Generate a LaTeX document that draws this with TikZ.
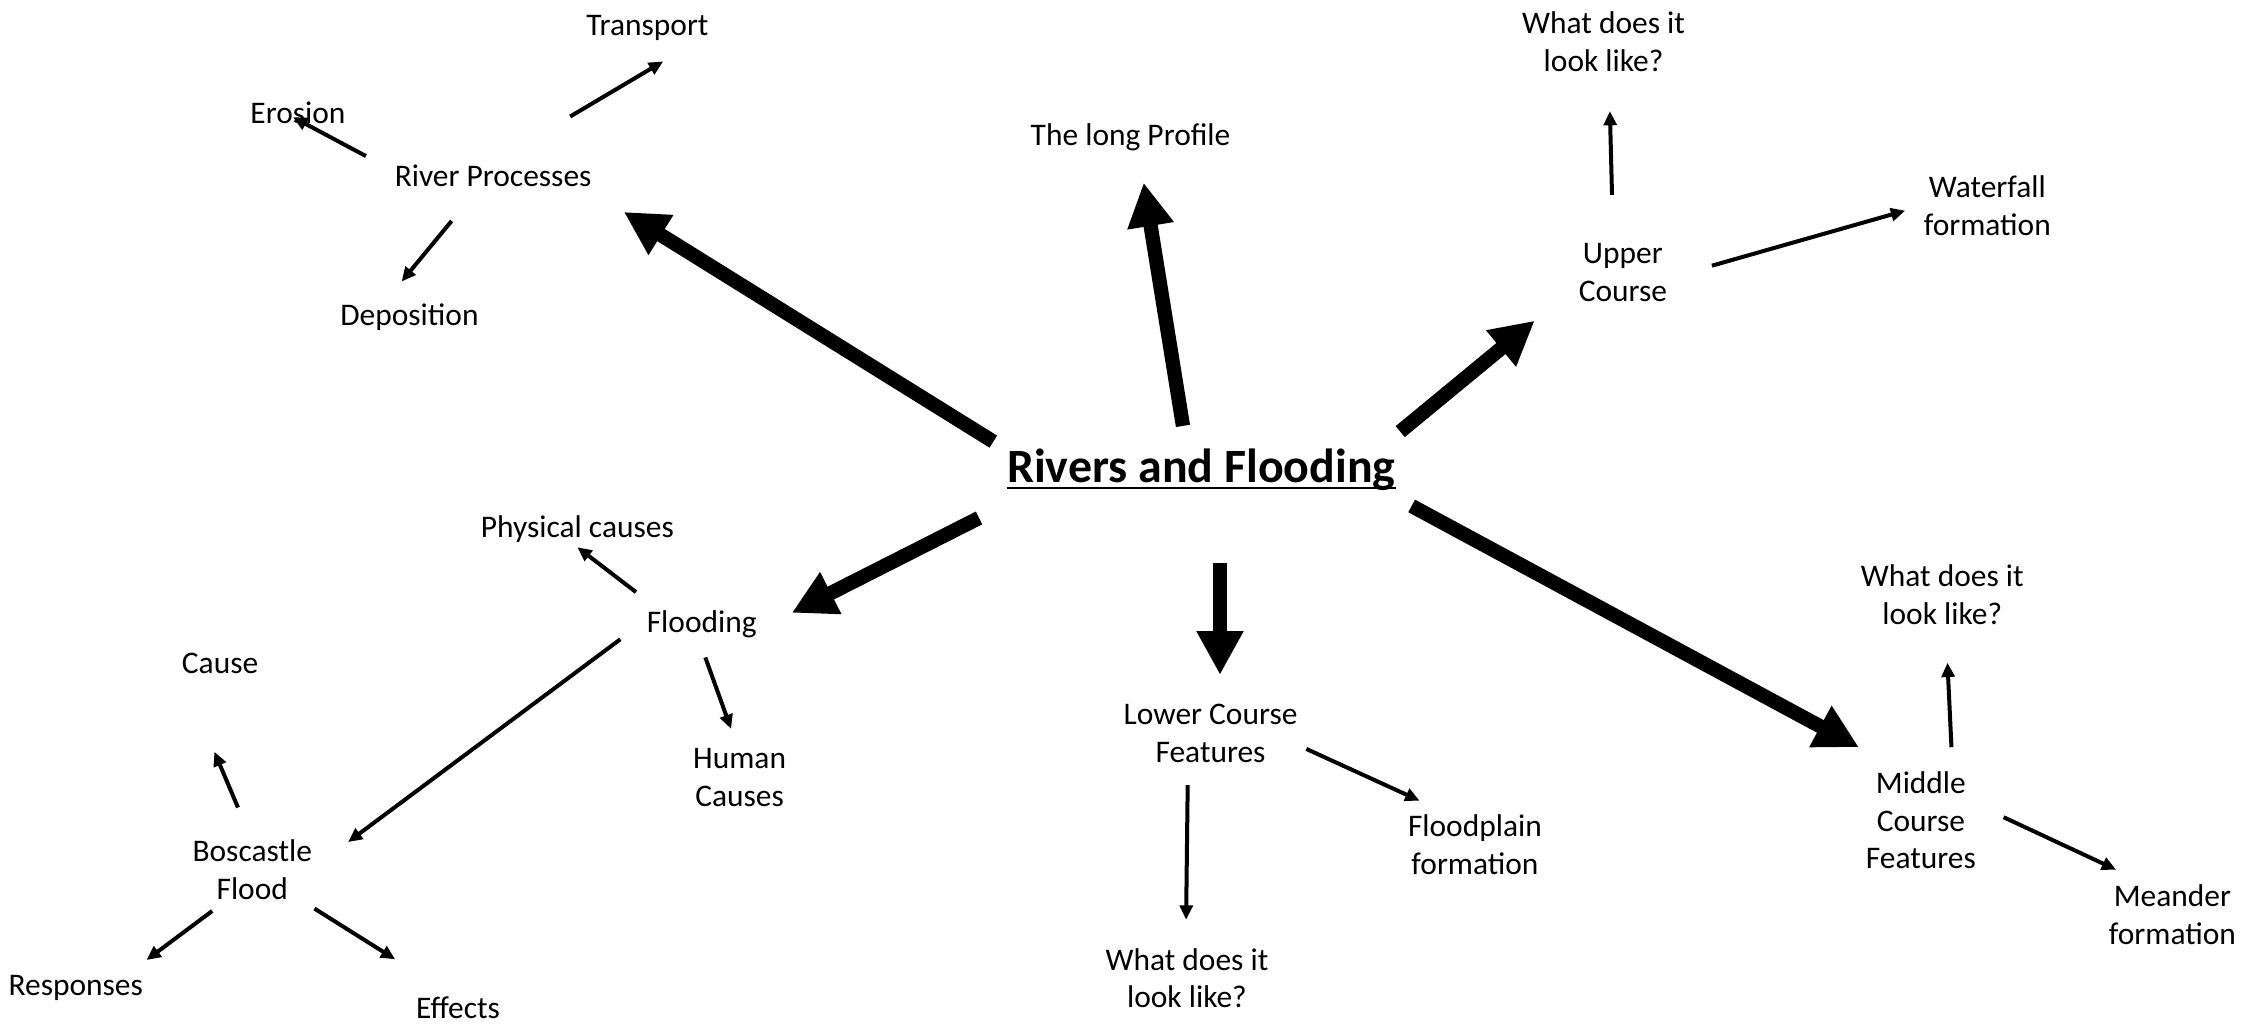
\documentclass[tikz,border=0pt]{standalone}
\usepackage{fontspec}
\setmainfont{Carlito}
\usetikzlibrary{arrows.meta,calc}
\begin{document}
\begin{tikzpicture}[x=0.5pt,y=-0.5pt,
  lbl/.style={inner sep=0pt, align=center, font=\fontsize{11pt}{13.2pt}\selectfont},
  ttl/.style={inner sep=0pt, font=\fontsize{16.75pt}{20pt}\selectfont\bfseries},
  big/.style={line width=5pt, -{Triangle[length=15.3pt,width=15.4pt]}},
  small/.style={line width=1.4pt, -{Triangle[length=5pt,width=4.5pt]}}]
\useasboundingbox (0,0) rectangle (1568,715.8);

% nodes
\node[ttl] (title) at (840.5,328.5) {Rivers and Flooding};
\draw[line width=0.7pt] ([yshift=-1.9pt]title.base west) -- ([yshift=-1.9pt]title.base east);

\node[lbl] (tr)  at (453,19.5)    {Transport};
\node[lbl] (er)  at (208.5,79)    {Erosion};
\node[lbl] (rp)  at (345,123)     {River Processes};
\node[lbl] (dep) at (286.5,222)   {Deposition};
\node[lbl] (lp)  at (791,96)      {The long Profile};
\node[lbl] (uw)  at (1122,29)     {What does it\\look like?};
\node[lbl] (wf)  at (1390.5,144)  {Waterfall\\formation};
\node[lbl] (uc)  at (1135.5,190.5){Upper\\Course};
\node[lbl] (pc)  at (404,370)     {Physical causes};
\node[lbl] (fl)  at (491,437)     {Flooding};
\node[lbl] (ca)  at (154,464)     {Cause};
\node[lbl] (hc)  at (517.5,544)   {Human\\Causes};
\node[lbl] (bf)  at (176.5,608.5) {Boscastle\\Flood};
\node[lbl] (rs)  at (53,691.5)    {Responses};
\node[lbl] (ef)  at (320.5,705)   {Effects};
\node[lbl] (lc)  at (847,513)     {Lower Course\\Features};
\node[lbl] (fp)  at (1032,591)    {Floodplain\\formation};
\node[lbl] (lw)  at (830.5,684.5) {What does it\\look like?};
\node[lbl] (mw)  at (1359,416)    {What does it\\look like?};
\node[lbl] (mc)  at (1344,574)    {Middle\\Course\\Features};
\node[lbl] (mf)  at (1520,640)    {Meander\\formation};

% thick arrows from the centre
\draw[big] ($(title)+(-145.5,-19.5)$) -- ($(rp)+(91.5,25.3)$);
\draw[big] ($(title)+(-12.8,-30.5)$)  -- ($(lp)+(9.2,31.8)$);
\draw[big] ($(title)+(139.2,-26.5)$)  -- ($(uc)+(-61.7,33.9)$);
\draw[big] ($(title)+(-155.5,33.9)$)  -- ($(fl)+(63,-8.2)$);
\draw[big] ($(title)+(13.1,65.3)$)    -- ($(lc)+(6.6,-40.8)$);
\draw[big] ($(title)+(147.2,25.5)$)   -- ($(mc)+(-43.4,-51.2)$);

% thin arrows
\draw[small] ($(rp)+(54,-41.5)$)   -- ($(tr)+(11,23.5)$);
\draw[small] ($(rp)+(-89,-13.8)$)  -- ($(er)+(-3.5,3)$);
\draw[small] ($(rp)+(-29,31.6)$)   -- ($(dep)+(-5.5,-25)$);
\draw[small] ($(uc)+(-7.6,-54.1)$) -- ($(uw)+(4.4,48.7)$);
\draw[small] ($(uc)+(62.3,-4.6)$)  -- ($(wf)+(-57.5,3.4)$);
\draw[small] ($(fl)+(-46,-22.7)$)  -- ($(pc)+(0,12.9)$);
\draw[small] ($(fl)+(2.5,23)$)     -- ($(hc)+(-6,-34)$);
\draw[small] ($(fl)+(-57,10.3)$)   -- ($(bf)+(67,-19.3)$);
\draw[small] ($(bf)+(-10,-43.5)$)  -- ($(ca)+(-4,62)$);
\draw[small] ($(bf)+(-28,28.9)$)   -- ($(rs)+(49.5,-19.8)$);
\draw[small] ($(bf)+(43.5,27.2)$)  -- ($(ef)+(-44,-33.8)$);
\draw[small] ($(lc)+(-16,36.4)$)   -- ($(lw)+(-0.6,-41)$);
\draw[small] ($(lc)+(67,11)$)      -- ($(fp)+(-38.8,-30.8)$);
\draw[small] ($(mc)+(21.4,-51.2)$) -- ($(mw)+(3.6,47.7)$);
\draw[small] ($(mc)+(57.9,-2.2)$)  -- ($(mf)+(-39.4,-31.5)$);
\end{tikzpicture}
\end{document}
